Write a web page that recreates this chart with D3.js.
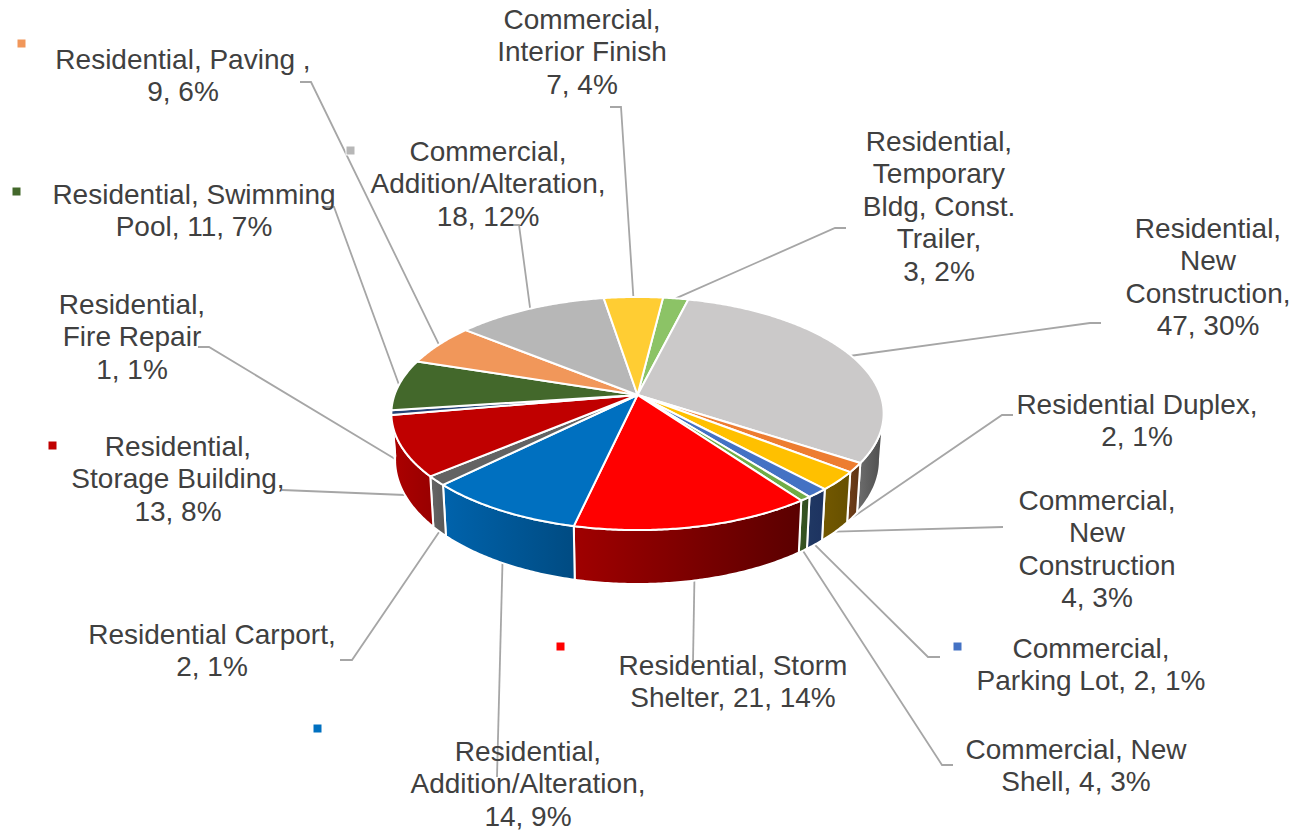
<!DOCTYPE html>
<html>
<head>
<meta charset="utf-8">
<script src="https://cdn.jsdelivr.net/npm/d3@7"></script>
<style>
  html, body { margin: 0; background: #fff; }
  text { font-family: "Liberation Sans", Arial, sans-serif; font-size: 28px; fill: #404040; text-anchor: middle; }
</style>
</head>
<body>
<div id="chart"></div>
<script>
// Slices clockwise, starting just right of 12 o'clock.
// sliceValues is the size each wedge has in the picture. New Shell is drawn
// much thinner than its label says (about 1 instead of 4), so labels stay separate.
var categories = ["Residential Temporary Bldg", "Residential New Construction", "Residential Duplex",
    "Commercial New Construction", "Commercial Parking Lot", "Commercial New Shell",
    "Residential Storm Shelter", "Residential Addition/Alteration", "Residential Carport",
    "Residential Storage Building", "Residential Fire Repair", "Residential Swimming Pool",
    "Residential Paving", "Commercial Addition/Alteration", "Commercial Interior Finish"];
var sliceValues = [3, 47, 2, 4, 2, 1, 21, 14, 2, 13, 1, 11, 9, 18, 7];
var labelLines = [
    ["Residential,", "Temporary", "Bldg, Const.", "Trailer,", "3, 2%"],
    ["Residential,", "New", "Construction,", "47, 30%"],
    ["Residential Duplex,", "2, 1%"],
    ["Commercial,", "New", "Construction", "4, 3%"],
    ["Commercial,", "Parking Lot, 2, 1%"],
    ["Commercial, New", "Shell, 4, 3%"],
    ["Residential, Storm", "Shelter, 21, 14%"],
    ["Residential,", "Addition/Alteration,", "14, 9%"],
    ["Residential Carport,", "2, 1%"],
    ["Residential,", "Storage Building,", "13, 8%"],
    ["Residential,", "Fire Repair", "1, 1%"],
    ["Residential, Swimming", "Pool, 11, 7%"],
    ["Residential, Paving ,", "9, 6%"],
    ["Commercial,", "Addition/Alteration,", "18, 12%"],
    ["Commercial,", "Interior Finish", "7, 4%"]
];

var topColors = ["#8CC366", "#CBC9C9", "#ED7D31", "#FFC000", "#4472C4", "#70AD47", "#FF0000", "#0070C0",
    "#636363", "#C00000", "#264478", "#43682B", "#F1975A", "#B7B7B7", "#FFCD33"];
var sideStart = ["#555", "#6E6E6E", "#70401A", "#735800", "#203864", "#375623", "#A00000", "#0063AC",
    "#666666", "#AC0000", "#1B3158", "#2F4A1E", "#B06A3E", "#888888", "#B89020"];
var sideEnd = ["#555", "#4C4C4C", "#5E3212", "#665000", "#1D3360", "#314D20", "#5A0000", "#004B82",
    "#585858", "#980000", "#1B3158", "#2F4A1E", "#B06A3E", "#888888", "#B89020"];

// Label placement: text centre x, first baseline, leader stub points (label end first)
var labelX = [939, 1208, 1137, 1097, 1091, 1076, 733, 528, 212, 178, 132, 194, 183, 488, 582];
var labelY = [151, 238, 414, 510, 658, 759, 675, 761, 644, 456, 314, 204, 69, 161, 29];
var leaderStubs = [
    [[846, 228], [835, 228]],
    [[1101, 323], [1090, 323]],
    [[1013, 415], [1002, 415]],
    [[1003, 527]],
    [[940, 657], [928, 657]],
    [[953, 765], [942, 765]],
    [[693, 662]],
    [[497, 777]],
    [[340, 660], [352, 660]],
    [[282, 490]],
    [[198, 347], [209, 347]],
    [[325, 207], [334, 207]],
    [[300, 82], [311, 82]],
    [[507, 225], [519, 225]],
    [[610, 107], [621, 107]]
];
// Stray legend keys left in some labels: slice index and top-left corner
var keyIndex = [12, 13, 11, 9, 4, 6, 7];
var keyX = [17, 346, 12, 48, 953, 556, 313];
var keyY = [39, 146, 187, 441, 642, 642, 724];

var w = 1302;
var h = 833;

// The disc is seen in perspective, so its centre is not the centre of the ellipse
var cx = 637.5, cy = 395;
var radiusX = 243, radiusY = 113.6, tilt = 0.1588;
var depth = 45.4, bottomShrink = 0.985;
var sideFrom = 99 * Math.PI / 180, sideTo = 263 * Math.PI / 180;

function rim(angle, lower) {
    var s = Math.sin(angle), c = -Math.cos(angle);
    var d = 1 - tilt * c;
    var x = radiusX * s / d, y = radiusY * c / d;
    if (lower) {
        x = x * bottomShrink;
        y = y + depth / d;
    }
    return [cx + x, cy + y];
}

function arcPoints(a0, a1, lower) {
    var n = Math.max(2, Math.ceil((a1 - a0) / 0.01));
    return d3.range(n + 1).map(function(i) { return rim(a0 + (a1 - a0) * i / n, lower); });
}

var slices = d3.pie()
    .sort(null)
    .startAngle(7 * Math.PI / 180)
    .endAngle((360 + 7) * Math.PI / 180)(sliceValues);

var line = d3.line();

var svg = d3.select("#chart")
    .append("svg")
    .attr("width", w)
    .attr("height", h)
    .style("display", "block");

var defs = svg.append("defs");
sliceValues.forEach(function(v, i) {
    var grad = defs.append("linearGradient").attr("id", "side" + i);
    grad.append("stop").attr("offset", "0%").attr("stop-color", sideStart[i]);
    grad.append("stop").attr("offset", "100%").attr("stop-color", sideEnd[i]);
});

// Leaders go under the pie
svg.append("g")
    .selectAll("path")
    .data(slices)
    .enter()
    .append("path")
    .attr("fill", "none")
    .attr("stroke", "#A6A6A6")
    .attr("stroke-width", 1.8)
    .attr("d", function(d, i) {
        var mid = (d.startAngle + d.endAngle) / 2;
        var lower = mid > sideFrom && mid < sideTo;
        return line(leaderStubs[i].concat([rim(mid, lower)]));
    });

// Side wall, only where it faces the viewer
var walls = slices.map(function(d, i) {
    return { index: i, from: Math.max(d.startAngle, sideFrom), to: Math.min(d.endAngle, sideTo) };
}).filter(function(d) { return d.to > d.from; });

svg.append("g")
    .selectAll("path")
    .data(walls)
    .enter()
    .append("path")
    .attr("fill", function(d) { return "url(#side" + d.index + ")"; })
    .attr("stroke", "#fff")
    .attr("stroke-width", 2)
    .attr("stroke-linejoin", "round")
    .attr("d", function(d) {
        return line(arcPoints(d.from, d.to, false).concat(arcPoints(d.from, d.to, true).reverse())) + "Z";
    });

// Top face
svg.append("g")
    .selectAll("path")
    .data(slices)
    .enter()
    .append("path")
    .attr("fill", function(d, i) { return topColors[i]; })
    .attr("stroke", "#fff")
    .attr("stroke-width", 2)
    .attr("stroke-linejoin", "round")
    .attr("d", function(d) {
        return line([[cx, cy]].concat(arcPoints(d.startAngle, d.endAngle, false))) + "Z";
    })
    .append("title")
    .text(function(d, i) { return categories[i]; });

// Labels
var labels = svg.append("g")
    .selectAll("text")
    .data(labelLines)
    .enter()
    .append("text")
    .attr("y", function(d, i) { return labelY[i]; });

labels.selectAll("tspan")
    .data(function(d, i) { return d.map(function(t, j) { return { t: t, j: j, i: i }; }); })
    .enter()
    .append("tspan")
    .attr("x", function(d) { return labelX[d.i]; })
    .attr("y", function(d) { return labelY[d.i] + d.j * 32.4; })
    .text(function(d) { return d.t; });

// Legend keys
svg.append("g")
    .selectAll("rect")
    .data(keyIndex)
    .enter()
    .append("rect")
    .attr("x", function(d, i) { return keyX[i]; })
    .attr("y", function(d, i) { return keyY[i]; })
    .attr("width", 9)
    .attr("height", 9)
    .attr("fill", function(d) { return topColors[d]; })
    .attr("stroke", "#fff")
    .attr("stroke-width", 1);
</script>
</body>
</html>
